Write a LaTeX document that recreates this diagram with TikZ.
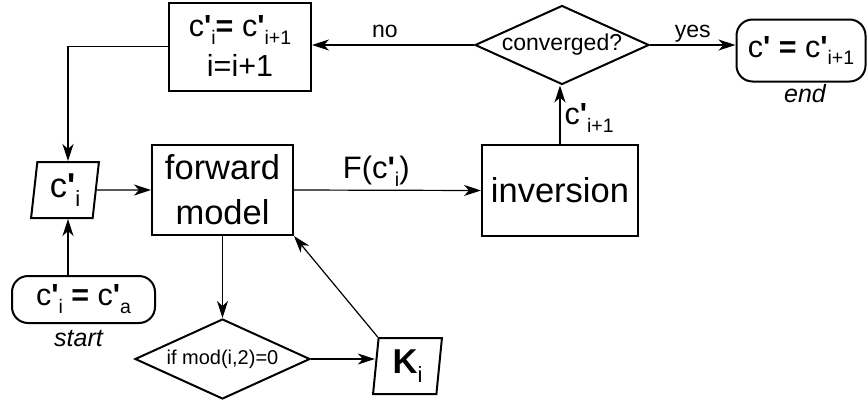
\documentclass[tikz,border=0pt]{standalone}
\usepackage{fontspec}
\setmainfont{Liberation Sans}
\usetikzlibrary{arrows.meta,shapes.geometric}
\newcommand\pr{\textbf{\textquotesingle}}
\newcommand\beq{\textbf{=}}
\newcommand\lsub[1]{\raisebox{-0.26em}{\scalebox{0.64}{#1}}}
\tikzset{
  box/.style={draw, line width=2pt, inner sep=0pt, align=center},
  rbox/.style={box, rounded corners=16pt},
  dia/.style={draw, line width=2pt, shape=diamond, inner sep=0pt},
  par/.style={draw, line width=2pt, shape=trapezium, trapezium stretches=true, inner sep=0pt},
  arr/.style={-{Stealth[length=17pt,width=11pt,inset=5pt]}, line width=1.2pt},
  big/.style={font=\fontsize{34.5}{45}\selectfont},
  mid/.style={font=\fontsize{30.5}{43}\selectfont},
  small/.style={font=\fontsize{23}{26}\selectfont},
  note/.style={font=\fontsize{25}{28}\selectfont\itshape, anchor=base},
  lbl/.style={anchor=base, inner sep=0pt}
}
\begin{document}
\begin{tikzpicture}[x=1pt,y=-1pt]
\useasboundingbox (0,0) rectangle (867,402);
\coordinate (vx) at (68,0);
% nodes
\node[box, mid, minimum width=142pt, minimum height=88pt] (top) at (240,46.5)
  {c\pr\lsub{i}\beq{} c\pr\lsub{i+1}\\[-3pt]i=i+1};
\node[dia, minimum width=174pt, minimum height=79pt,
  label={[small]center:converged?}] (conv) at (562,45) {};
\node[rbox, mid, minimum width=129pt, minimum height=62pt] (endb) at (801,50.5)
  {c\pr{} \beq{} c\pr\lsub{i+1}};
\node[note] (endl) at (805,102) {end};
\node[box, big, minimum width=156pt, minimum height=91pt] (inv) at (560,190.5) {inversion};
\node[box, big, minimum width=141pt, minimum height=90pt] (fm) at (222.5,190)
  {forward\\model};
\node[par, big, trapezium left angle=84, trapezium right angle=96,
  minimum width=68pt, minimum height=56pt] (ci) at (65,190) {c\pr\lsub{i}};
\node[rbox, mid, minimum width=143pt, minimum height=47pt] (start) at (83.5,299.5)
  {c\pr\lsub{i} \beq{} c\pr\lsub{a}};
\node[note] (startl) at (78.5,346) {start};
\node[dia, minimum width=175pt, minimum height=80pt,
  label={[font=\fontsize{20}{24}\selectfont]center:if mod(i,2)=0}] (mod) at (222.5,359) {};
\node[par, big, trapezium left angle=85, trapezium right angle=95,
  minimum width=69pt, minimum height=56pt] (K) at (407.5,366) {\textbf{K}\lsub{i}};
% connectors
\draw[arr] (conv.west) -- (conv.west -| top.east)
  node[lbl, small, pos=0.55, yshift=8pt] (no) {no};
\draw[arr] (conv.east) -- (conv.east -| endb.west)
  node[lbl, small, midway, yshift=8pt] (yes) {yes};
\draw[arr] (inv.north) -- (inv.north |- conv.south)
  node[lbl, mid, midway, anchor=west, xshift=4pt, yshift=-3pt] (cnext) {c\pr\lsub{i+1}};
\draw[arr] (top.west) -| (vx |- ci.north);
\draw[arr] (vx |- start.north) -- (vx |- ci.south);
\draw[arr] (ci.east) -- (fm.west);
\draw[arr] (fm.east) -- (inv.west)
  node[lbl, font=\fontsize{31}{36}\selectfont, pos=0.44, yshift=12pt] (fc) {F(c\pr\lsub{i})};
\draw[arr] (fm.south) -- (mod.north);
\draw[arr] (mod.east) -- (mod.east -| K.west);
\draw[arr] (K.top left corner) -- (fm.south east);
\end{tikzpicture}
\end{document}
